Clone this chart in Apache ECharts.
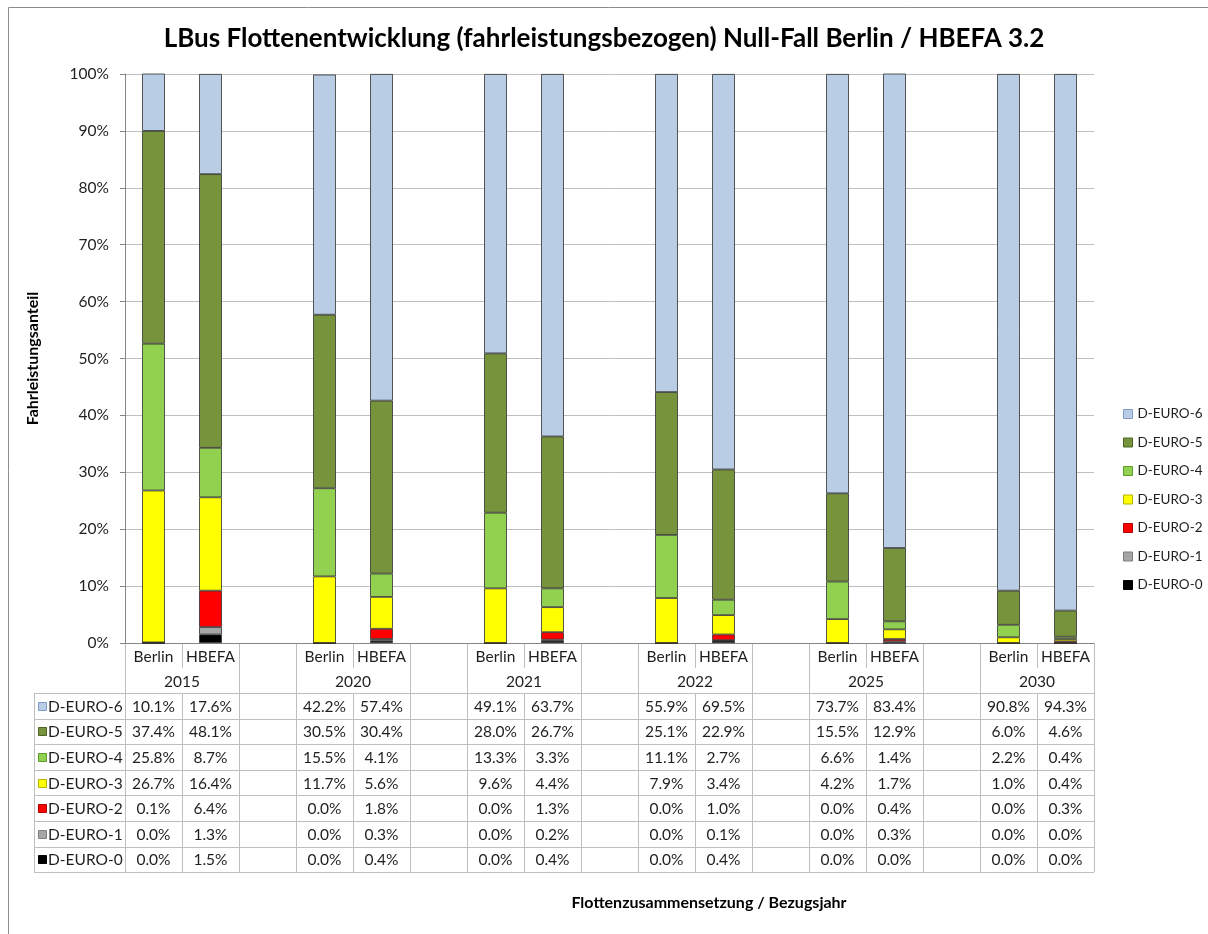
<!DOCTYPE html>
<html>
<head>
<meta charset="utf-8">
<script src="https://cdn.jsdelivr.net/npm/echarts@6/dist/echarts.min.js"></script>
<style>
  html, body { margin: 0; padding: 0; background: #fff; }
  #chart { width: 1208px; height: 934px; }
</style>
</head>
<body>
<div id="chart"></div>
<script>
// Spalten (leere Spalten trennen die Bezugsjahre)
const columns = ['Berlin', 'HBEFA', '', 'Berlin', 'HBEFA', '', 'Berlin', 'HBEFA', '', 'Berlin', 'HBEFA', '', 'Berlin', 'HBEFA', '', 'Berlin', 'HBEFA']
const years = ['2015', '2020', '2021', '2022', '2025', '2030']
const seriesNames = ['D-EURO-6', 'D-EURO-5', 'D-EURO-4', 'D-EURO-3', 'D-EURO-2', 'D-EURO-1', 'D-EURO-0']
const colors = ['#B9CDE5', '#77933C', '#92D050', '#FFFF00', '#FF0000', '#A6A6A6', '#000000']
const keyBorders = ['#7E9CC4', '#4F6228', '#5E9A2C', '#B3B300', '#B00000', '#7F7F7F', '#000000']
const yTicks = [0, 10, 20, 30, 40, 50, 60, 70, 80, 90, 100]

// Anteile in %
const euro6 = [10.1, 17.6, null, 42.2, 57.4, null, 49.1, 63.7, null, 55.9, 69.5, null, 73.7, 83.4, null, 90.8, 94.3]
const euro5 = [37.4, 48.1, null, 30.5, 30.4, null, 28.0, 26.7, null, 25.1, 22.9, null, 15.5, 12.9, null, 6.0, 4.6]
const euro4 = [25.8, 8.7, null, 15.5, 4.1, null, 13.3, 3.3, null, 11.1, 2.7, null, 6.6, 1.4, null, 2.2, 0.4]
const euro3 = [26.7, 16.4, null, 11.7, 5.6, null, 9.6, 4.4, null, 7.9, 3.4, null, 4.2, 1.7, null, 1.0, 0.4]
const euro2 = [0.1, 6.4, null, 0.0, 1.8, null, 0.0, 1.3, null, 0.0, 1.0, null, 0.0, 0.4, null, 0.0, 0.3]
const euro1 = [0.0, 1.3, null, 0.0, 0.3, null, 0.0, 0.2, null, 0.0, 0.1, null, 0.0, 0.3, null, 0.0, 0.0]
const euro0 = [0.0, 1.5, null, 0.0, 0.4, null, 0.0, 0.4, null, 0.0, 0.4, null, 0.0, 0.0, null, 0.0, 0.0]
const values = [euro6, euro5, euro4, euro3, euro2, euro1, euro0]

const FONT = 'Lato, "Liberation Sans", sans-serif'
const TEXT = '#1F1F1F'
const LINE = '#BFBFBF'

const chart = echarts.init(document.getElementById('chart'))

// gestapelt von unten (D-EURO-0) nach oben (D-EURO-6)
const series = seriesNames.map((name, i) => ({
  name: name,
  type: 'bar',
  stack: 'total',
  barWidth: '40%',
  data: values[i],
  itemStyle: { color: colors[i], borderColor: '#303030', borderWidth: 0.8 }
})).reverse()

chart.setOption({
  animation: false,
  textStyle: { fontFamily: FONT },
  title: {
    text: 'LBus Flottenentwicklung (fahrleistungsbezogen) Null-Fall Berlin / HBEFA 3.2',
    left: 'center',
    top: 21,
    textStyle: { fontFamily: FONT, fontSize: 26, fontWeight: 'bold', color: '#000' }
  },
  legend: {
    orient: 'vertical',
    left: 1118,
    top: 402,
    itemWidth: 9,
    itemHeight: 9,
    itemGap: 14.5,
    icon: 'rect',
    textStyle: { fontSize: 13.5, color: TEXT, lineHeight: 14 },
    data: seriesNames.map((n, i) => ({
      name: n,
      itemStyle: { color: colors[i], borderColor: keyBorders[i], borderWidth: 1 }
    }))
  },
  grid: { left: 125, right: 114, top: 74, bottom: 291 },
  xAxis: {
    type: 'category',
    data: columns,
    axisLine: { lineStyle: { color: '#868686' } },
    axisTick: { show: false },
    axisLabel: { show: false }
  },
  yAxis: {
    type: 'value',
    min: yTicks[0],
    max: yTicks[yTicks.length - 1],
    interval: 10,
    name: 'Fahrleistungsanteil',
    nameLocation: 'middle',
    nameGap: 84,
    nameTextStyle: { fontSize: 16, fontWeight: 'bold', color: '#000' },
    axisLine: { show: true, lineStyle: { color: '#868686' } },
    axisTick: { show: true, length: 5, lineStyle: { color: '#868686' } },
    axisLabel: { formatter: '{value}%', fontSize: 15.5, color: TEXT, margin: 16 },
    splitLine: { lineStyle: { color: LINE } }
  },
  series: series
})

// Datentabelle unter der Grafik, Spalten aus der Kategorienachse
function buildTable() {
  const cx = i => chart.convertToPixel({ xAxisIndex: 0 }, i)
  const colW = cx(1) - cx(0)
  const edge = i => cx(0) + (i - 0.5) * colW
  const y0 = chart.convertToPixel({ yAxisIndex: 0 }, 0)
  const headH = 25
  const rowH = 25.6
  const dataTop = y0 + 2 * headH
  const bottom = dataTop + seriesNames.length * rowH
  const tableLeft = 34
  const right = edge(columns.length)
  const g = []
  const line = (x1, y1, x2, y2) => g.push({
    type: 'line', silent: true,
    shape: { x1: x1, y1: y1, x2: x2, y2: y2 },
    style: { stroke: LINE, lineWidth: 1 }
  })
  const text = (x, y, t, align) => g.push({
    type: 'text', silent: true, x: x, y: y,
    style: { text: t, fontFamily: FONT, fontSize: 15.5, fill: TEXT, align: align || 'center', verticalAlign: 'middle' }
  })

  // horizontale Linien
  for (let r = 0; r <= seriesNames.length; r++) {
    const y = Math.round(dataTop + r * rowH) + 0.5
    line(tableLeft, y, right, y)
  }
  line(tableLeft + 0.5, dataTop, tableLeft + 0.5, bottom)

  // vertikale Linien
  for (let i = 0; i <= columns.length; i++) {
    const x = Math.round(edge(i)) + 0.5
    const inner = columns[i - 1] === 'Berlin'
    if (inner) {
      line(x, y0, x, y0 + headH)
      line(x, dataTop, x, bottom)
    } else {
      line(x, y0, x, bottom)
    }
  }

  // Kopfzeilen
  columns.forEach((c, i) => { if (c) text(cx(i), y0 + headH / 2 + 1, c) })
  let yi = 0
  columns.forEach((c, i) => {
    if (c === 'Berlin') {
      text(edge(i + 1), y0 + headH * 1.5 + 1, years[yi++])
    }
  })

  // Datenzeilen mit Legendenschlüssel
  seriesNames.forEach((name, r) => {
    const yc = dataTop + (r + 0.5) * rowH + 1
    g.push({
      type: 'rect', silent: true,
      shape: { x: 38.5, y: Math.round(yc - 5) + 0.5, width: 8, height: 8 },
      style: { fill: colors[r], stroke: keyBorders[r], lineWidth: 1 }
    })
    text(48, yc, name, 'left')
    values[r].forEach((v, i) => {
      if (v !== null) text(cx(i), yc, v.toFixed(1) + '%')
    })
  })

  // Achsentitel
  g.push({
    type: 'text', silent: true, x: 709, y: 903,
    style: { text: 'Flottenzusammensetzung / Bezugsjahr', fontFamily: FONT, fontSize: 16, fontWeight: 'bold', fill: '#000', align: 'center', verticalAlign: 'middle' }
  })

  // Rahmen
  g.push({
    type: 'rect', silent: true,
    shape: { x: 8.5, y: 7.5, width: 1300, height: 1000 },
    style: { fill: 'none', stroke: '#8C8C8C', lineWidth: 1 }
  })

  chart.setOption({ graphic: g })
}

buildTable()
</script>
</body>
</html>
